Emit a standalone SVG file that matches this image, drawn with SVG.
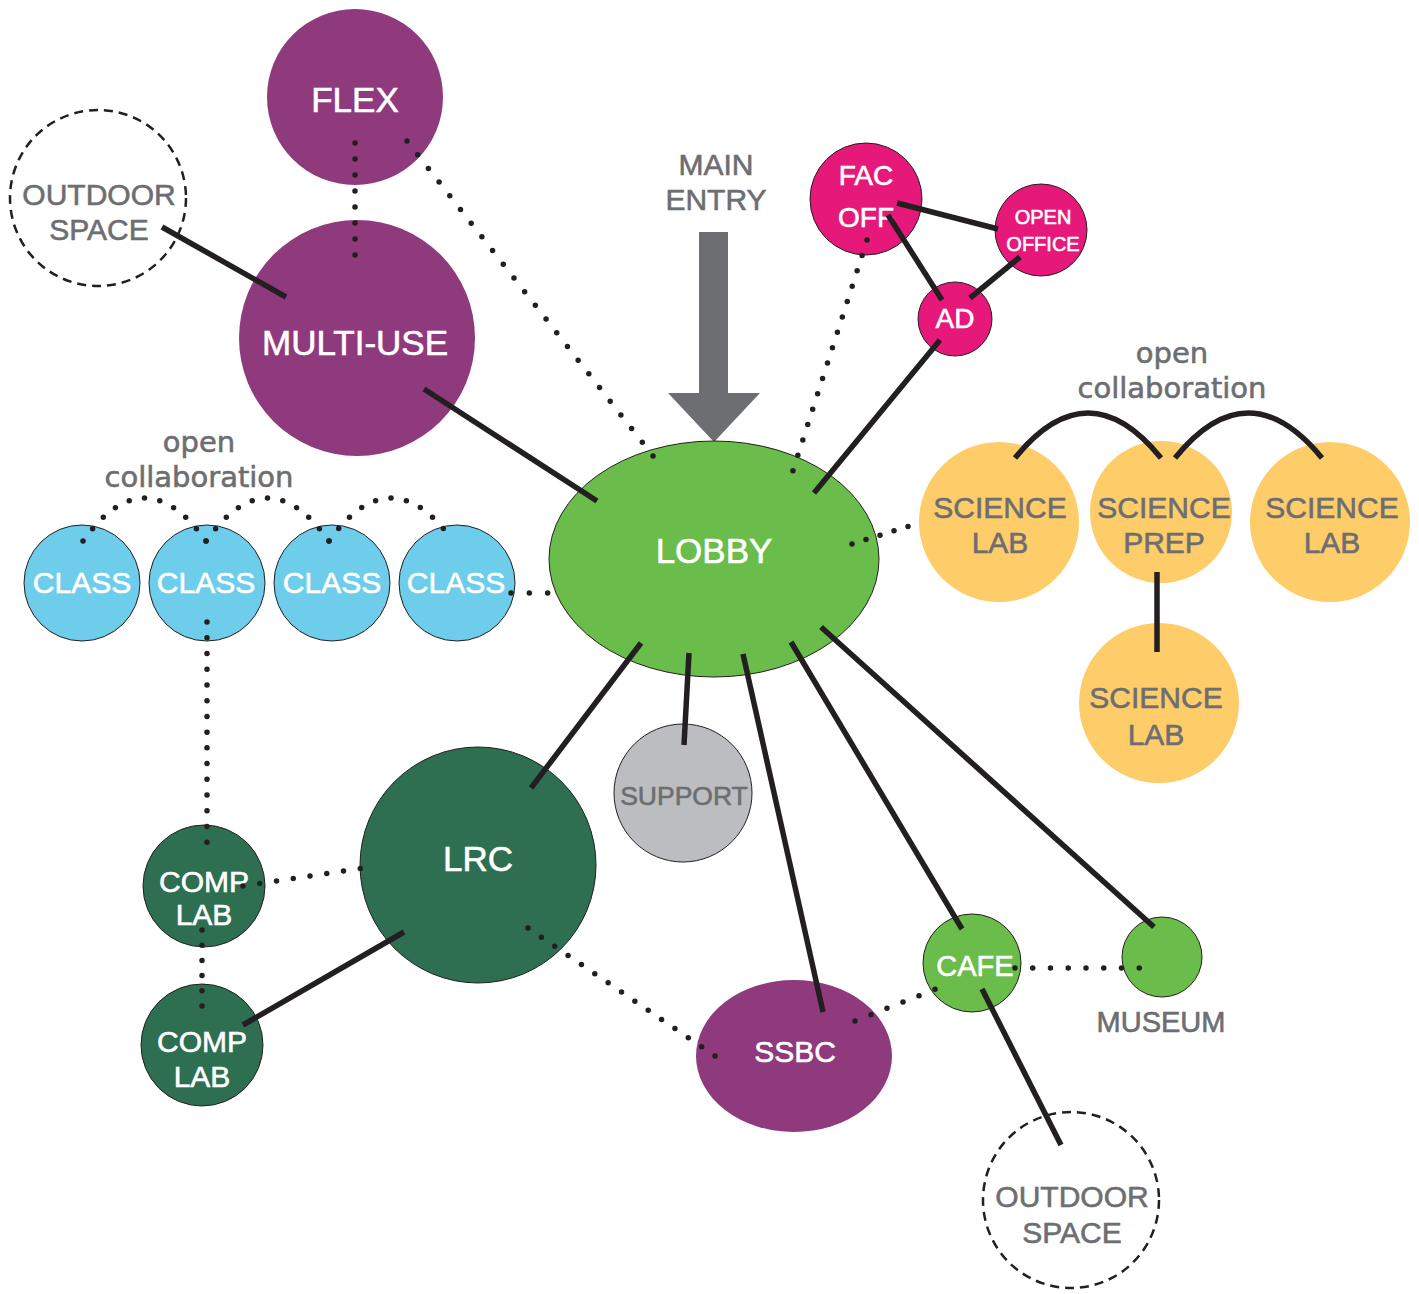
<svg xmlns="http://www.w3.org/2000/svg" width="1419" height="1294" viewBox="0 0 1419 1294">
<style>
text{font-family:"Liberation Sans",Arial,sans-serif;text-anchor:middle}
.w{fill:#fff;stroke:#fff;stroke-width:0.6}
.g{fill:#6d6e71;stroke:#6d6e71;stroke-width:0.6}
.f35{font-size:35px}
.f30{font-size:30px}
.f28{font-size:28px}
.oc{font-family:"DejaVu Sans",sans-serif;font-size:29px;fill:#6d6e71;stroke:#6d6e71;stroke-width:0.6}
.purple{fill:#8e3a7c}
.pink{fill:#e6197b;stroke:#231f20;stroke-width:1}
.blue{fill:#6dcdeb;stroke:#231f20;stroke-width:1}
.lg{fill:#6abc4b;stroke:#231f20;stroke-width:1}
.dg{fill:#2e6f51;stroke:#231f20;stroke-width:1}
.yel{fill:#fecc68}
.gray{fill:#bcbdc0;stroke:#231f20;stroke-width:1}
.out{fill:none;stroke:#231f20;stroke-width:2.5;stroke-dasharray:9 6}
.s{fill:none;stroke:#231f20;stroke-width:5.5}
.d{fill:none;stroke:#231f20;stroke-width:5.5;stroke-linecap:round;stroke-dasharray:0 1}
</style>
<rect width="1419" height="1294" fill="#fff"/>
<g id="nodes">
<g id="outdoor-space-1"><circle class="out" cx="98" cy="198" r="88"/><text class="g f30" x="99" y="205">OUTDOOR</text><text class="g f30" x="99" y="240">SPACE</text></g>
<g id="flex"><circle class="purple" cx="355" cy="97" r="88"/><text class="w f35" x="355" y="112">FLEX</text></g>
<g id="multi-use"><circle class="purple" cx="357" cy="338" r="118"/><text class="w f35" x="355" y="355">MULTI-USE</text></g>
<g id="main-entry"><text class="g f30" x="716" y="175">MAIN</text><text class="g f30" x="716" y="210">ENTRY</text><polygon fill="#6d6e71" points="699,232 728,232 728,393 760,393 714,442 668,393 699,393"/></g>
<g id="fac-off"><circle class="pink" cx="866" cy="199" r="56"/><text class="w f28" x="866" y="185">FAC</text><text class="w f28" x="866" y="227">OFF</text></g>
<g id="open-office"><circle class="pink" cx="1041" cy="230" r="46"/><text class="w" font-size="20" x="1043" y="224">OPEN</text><text class="w" font-size="20" x="1043" y="251">OFFICE</text></g>
<g id="ad"><circle class="pink" cx="955" cy="319" r="37"/><text class="w f28" x="955" y="328">AD</text></g>
<g id="lobby"><ellipse class="lg" cx="714" cy="559" rx="165" ry="118"/><text class="w f35" x="714" y="563">LOBBY</text></g>
<g id="open-collaboration-left"><text class="oc" x="199" y="452">open</text><text class="oc" x="199" y="487">collaboration</text></g>
<g id="class-1"><circle class="blue" cx="82" cy="583" r="58"/><text class="w f30" x="82" y="593">CLASS</text></g>
<g id="class-2"><circle class="blue" cx="207" cy="583" r="58"/><text class="w f30" x="206" y="593">CLASS</text></g>
<g id="class-3"><circle class="blue" cx="332" cy="583" r="58"/><text class="w f30" x="332" y="593">CLASS</text></g>
<g id="class-4"><circle class="blue" cx="457" cy="583" r="58"/><text class="w f30" x="456" y="593">CLASS</text></g>
<g id="open-collaboration-right"><text class="oc" x="1172" y="363">open</text><text class="oc" x="1172" y="398">collaboration</text></g>
<g id="science-lab-1"><circle class="yel" cx="999" cy="522" r="80"/><text class="g f30" x="1000" y="518">SCIENCE</text><text class="g f30" x="1000" y="553">LAB</text></g>
<g id="science-prep"><circle class="yel" cx="1161" cy="512" r="71"/><text class="g f30" x="1164" y="518">SCIENCE</text><text class="g f30" x="1164" y="553">PREP</text></g>
<g id="science-lab-2"><circle class="yel" cx="1330" cy="522" r="80"/><text class="g f30" x="1332" y="518">SCIENCE</text><text class="g f30" x="1332" y="553">LAB</text></g>
<g id="science-lab-3"><circle class="yel" cx="1159" cy="703" r="80"/><text class="g f30" x="1156" y="708">SCIENCE</text><text class="g f30" x="1156" y="745">LAB</text></g>
<g id="support"><circle class="gray" cx="683" cy="793" r="69"/><text class="g" font-size="26.5" x="684" y="805">SUPPORT</text></g>
<g id="lrc"><circle class="dg" cx="478" cy="865" r="118"/><text class="w f35" x="478" y="871">LRC</text></g>
<g id="comp-lab-1"><circle class="dg" cx="204" cy="886" r="61"/><text class="w f30" x="204" y="892">COMP</text><text class="w f30" x="204" y="925">LAB</text></g>
<g id="comp-lab-2"><circle class="dg" cx="202" cy="1045" r="61"/><text class="w f30" x="202" y="1052">COMP</text><text class="w f30" x="202" y="1087">LAB</text></g>
<g id="ssbc"><ellipse class="purple" cx="794" cy="1056" rx="98" ry="76"/><text class="w f30" x="795" y="1062">SSBC</text></g>
<g id="cafe"><circle class="lg" cx="972" cy="963" r="49"/><text class="w" font-size="29" x="975" y="976">CAFE</text></g>
<g id="museum"><circle class="lg" cx="1162" cy="957" r="40"/><text class="g" font-size="29" x="1161" y="1032">MUSEUM</text></g>
<g id="outdoor-space-2"><circle class="out" cx="1071" cy="1200" r="88"/><text class="g f30" x="1072" y="1207">OUTDOOR</text><text class="g f30" x="1072" y="1243">SPACE</text></g>
</g>
<g id="connectors">
<path class="s" d="M162,227 L286,297"/>
<path class="s" d="M424,389 L597,501"/>
<path class="s" d="M897,203 L998,229"/>
<path class="s" d="M888,215 L942,300"/>
<path class="s" d="M1020,257 L970,298"/>
<path class="s" d="M940,340 L814,493"/>
<path class="s" d="M1015,458 Q1088,368 1161,458"/>
<path class="s" d="M1175,458 Q1248,368 1322,458"/>
<path class="s" d="M1157,572 L1157,652"/>
<path class="s" d="M641,643 L531,788"/>
<path class="s" d="M689,653 L684,745"/>
<path class="s" d="M743,654 L823,1012"/>
<path class="s" d="M791,642 L962,929"/>
<path class="s" d="M821,627 L1154,927"/>
<path class="s" d="M404,932 L243,1025"/>
<path class="s" d="M982,989 L1061,1145"/>
<path class="d" pathLength="8" d="M355,143 L355,271"/>
<path class="d" pathLength="23" d="M407,141 L653,456"/>
<path class="d" pathLength="16" d="M867,240 L788,486"/>
<path class="d" pathLength="3" d="M511,593 L566,593"/>
<path class="d" pathLength="5" d="M852,544 L922,522"/>
<path class="d" pathLength="10" d="M83,541 Q144.5,455 206,541"/>
<path class="d" pathLength="10" d="M206,541 Q267.5,455 329,541"/>
<path class="d" pathLength="10" d="M329,541 Q391,455 453,541"/>
<path class="d" pathLength="15" d="M207,622 L207,858"/>
<path class="d" pathLength="5" d="M202,930 L202,1006"/>
<path class="d" pathLength="8" d="M243,886 L377,866"/>
<path class="d" pathLength="14" d="M528,928 L715,1056"/>
<path class="d" pathLength="6" d="M855,1021 L951,983"/>
<path class="d" pathLength="8" d="M1015,968 L1157,968"/>
</g>
</svg>
